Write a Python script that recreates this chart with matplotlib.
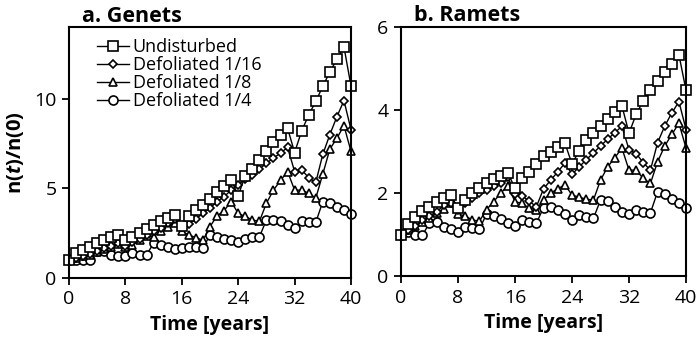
import matplotlib
matplotlib.use('Agg')
import matplotlib.pyplot as plt

plt.rcParams['font.family'] = ['Open Sans', 'DejaVu Sans']
plt.rcParams['mathtext.fontset'] = 'custom'
plt.rcParams['mathtext.bfit'] = 'Open Sans:italic:bold'

years = list(range(41))

# Genets, n(t)/n(0)
genets_undisturbed = [1.0, 1.38, 1.56, 1.75, 1.97, 2.12, 2.27, 2.4, 2.1, 2.27,
                      2.5, 2.72, 2.96, 3.18, 3.37, 3.52, 2.9, 3.43, 3.8, 4.08,
                      4.4, 4.8, 5.14, 5.47, 4.6, 5.7, 6.1, 6.6, 7.06, 7.6,
                      8.0, 8.36, 7.0, 8.2, 9.1, 9.85, 10.7, 11.5, 12.2, 12.9, 10.7]
genets_def16 = [1.0, 1.1, 1.2, 1.35, 1.5, 1.65, 1.8, 1.95, 1.8, 2.0,
                2.2, 2.4, 2.6, 2.8, 3.05, 3.28, 2.85, 3.0, 3.3, 3.6,
                3.9, 4.26, 4.54, 4.9, 5.2, 5.5, 5.75, 6.07, 6.4, 6.69,
                6.97, 7.28, 5.94, 6.03, 5.6, 5.33, 6.9, 8.0, 9.0, 9.9, 8.27]
genets_def8 = [1.0, 1.1, 1.2, 1.3, 1.45, 1.6, 1.75, 1.9, 1.7, 1.85,
               2.1, 2.35, 2.3, 2.6, 2.85, 3.07, 2.6, 2.4, 2.25, 2.1,
               2.87, 3.46, 3.76, 4.26, 3.6, 3.43, 3.24, 3.15, 4.17, 4.9,
               5.44, 5.94, 4.9, 4.9, 4.73, 4.45, 5.8, 7.19, 7.8, 8.5, 7.06]
genets_def4 = [1.0, 1.0, 1.0, 1.0, 1.5, 1.5, 1.3, 1.2, 1.2, 1.4,
               1.3, 1.3, 1.93, 1.85, 1.7, 1.6, 1.65, 1.75, 1.75, 1.67,
               2.4, 2.3, 2.2, 2.12, 2.0, 2.2, 2.28, 2.28, 3.24, 3.24,
               3.15, 2.96, 2.77, 3.15, 3.1, 3.1, 4.26, 4.17, 3.98, 3.8, 3.56]

# Ramets, n(t)/n(0)
ramets_undisturbed = [1.0, 1.25, 1.41, 1.57, 1.67, 1.79, 1.87, 1.95, 1.63, 1.83,
                      2.0, 2.11, 2.23, 2.33, 2.41, 2.49, 2.11, 2.35, 2.51, 2.7,
                      2.9, 3.0, 3.12, 3.2, 2.7, 3.02, 3.28, 3.45, 3.61, 3.79,
                      3.96, 4.1, 3.44, 3.9, 4.22, 4.48, 4.7, 4.92, 5.12, 5.33, 4.47]
ramets_def16 = [1.0, 1.1, 1.2, 1.35, 1.45, 1.55, 1.7, 1.75, 1.6, 1.75,
                1.87, 2.0, 2.07, 2.17, 2.25, 2.38, 1.98, 1.93, 1.8, 1.67,
                2.1, 2.31, 2.51, 2.72, 2.45, 2.63, 2.8, 2.97, 3.13, 3.3,
                3.45, 3.61, 3.04, 2.95, 2.73, 2.55, 3.21, 3.61, 3.93, 4.2, 3.53]
ramets_def8 = [1.0, 1.1, 1.2, 1.3, 1.4, 1.52, 1.62, 1.77, 1.49, 1.45,
               1.35, 1.32, 1.6, 1.79, 2.0, 2.17, 1.79, 1.75, 1.63, 1.6,
               1.83, 2.0, 2.1, 2.2, 1.95, 1.9, 1.85, 1.83, 2.31, 2.63,
               2.85, 3.08, 2.55, 2.55, 2.35, 2.23, 2.75, 3.13, 3.41, 3.68, 3.08]
ramets_def4 = [1.0, 1.07, 1.0, 0.98, 1.28, 1.3, 1.19, 1.13, 1.07, 1.19,
               1.15, 1.13, 1.49, 1.44, 1.37, 1.27, 1.2, 1.35, 1.3, 1.27,
               1.65, 1.67, 1.6, 1.5, 1.35, 1.47, 1.43, 1.39, 1.83, 1.8,
               1.67, 1.55, 1.49, 1.6, 1.55, 1.52, 2.03, 1.97, 1.85, 1.75, 1.63]

labels = ['Undisturbed', 'Defoliated 1/16', 'Defoliated 1/8', 'Defoliated 1/4']
markers = ['s', 'D', '^', 'o']
msizes = [6.5, 4.2, 6.2, 6.5]

fig = plt.figure(figsize=(6.97, 3.47), dpi=100)
ax1 = fig.add_axes([0.099, 0.199, 0.4046, 0.723])
ax2 = fig.add_axes([0.5753, 0.2046, 0.409, 0.7176])

panels = [
    (ax1, [genets_undisturbed, genets_def16, genets_def8, genets_def4],
     'a. Genets', 14, [0, 5, 10]),
    (ax2, [ramets_undisturbed, ramets_def16, ramets_def8, ramets_def4],
     'b. Ramets', 6, [0, 2, 4, 6]),
]

for ax, series, title, ymax, yticks in panels:
    # most-defoliated series first so the squares end up on top
    for vals, lab, m, ms in reversed(list(zip(series, labels, markers, msizes))):
        ax.plot(years, vals, color='black', lw=1.0, marker=m, ms=ms,
                mfc='white', mec='black', mew=1.2, label=lab, clip_on=False)
    ax.set_xlim(0, 40)
    ax.set_ylim(0, ymax)
    ax.set_xticks(range(0, 41, 8))
    ax.set_yticks(yticks)
    ax.tick_params(direction='out', length=5, width=1.3, labelsize=14, pad=4,
                   colors='black')
    for sp in ax.spines.values():
        sp.set_linewidth(1.5)
    ax.set_xlabel('Time [years]', fontsize=14, fontweight='bold', labelpad=5)
    ax.set_title(title, fontsize=15.5, fontweight='bold', loc='left', x=0.045, pad=4)

ax1.set_ylabel(r'n($\mathbfit{t}$)/n(0)', fontsize=14.5, fontweight='bold', labelpad=6)

handles, labs = ax1.get_legend_handles_labels()
ax1.legend(handles[::-1], labs[::-1], loc='upper left', frameon=False,
           fontsize=13, handlelength=1.8, handletextpad=0.2, labelspacing=0.0,
           borderaxespad=0.2, bbox_to_anchor=(0.06, 1.0))

fig.savefig('out.png', dpi=100)
